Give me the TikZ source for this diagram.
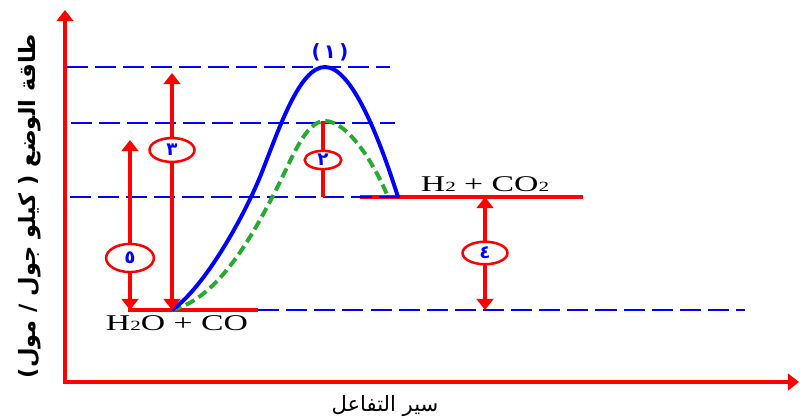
\documentclass[tikz,border=0pt]{standalone}
\usepackage{fontspec}
\setmainfont{Liberation Serif}
\newfontfamily\arabicfont[Script=Arabic]{DejaVu Sans}
\newfontfamily\parenfont{DejaVu Sans}
\TeXXeTstate=1
\usetikzlibrary{arrows.meta, shapes.geometric}
\definecolor{curvegreen}{RGB}{40,170,50}
\newcommand{\idx}[1]{{\fontsize{10}{10}\selectfont #1}}
\newcommand{\pr}[1]{{\parenfont #1}}

\begin{document}
\begin{tikzpicture}[
    x=0.025cm, y=-0.025cm,
    >={Triangle[width=12pt,length=8pt]},
    axis/.style={
        <->,
        draw=red,
        line width=2.8pt
    },
    level/.style={
        draw=blue,
        line width=2pt,
        dash pattern=on 15pt off 5pt
    },
    base/.style={
        draw=red,
        line width=2.4pt
    },
    gap/.style={
        <->,
        draw=red,
        line width=2.8pt
    },
    tag/.style={
        ellipse,
        draw=red,
        line width=1.8pt,
        fill=white,
        inner sep=0pt,
        text=blue,
        font=\arabicfont\bfseries\fontsize{13}{13}\selectfont
    },
    chem/.style={
        inner sep=0pt,
        xscale=1.5,
        font=\fontsize{16}{18}\selectfont
    },
    curve/.style={
        line width=2.8pt
    }
]

    \useasboundingbox (0,0) rectangle (800,419);

    % Axes
    \coordinate (O) at (65,382);
    \coordinate (ytop) at (65,10);
    \coordinate (xend) at (799,382);
    \draw[axis] (ytop) -- (O) -- (xend);

    % Reactant and product levels
    \coordinate (rw) at (128,310);
    \coordinate (re) at (258,310);
    \coordinate (pw) at (360,197);
    \coordinate (pe) at (583,197);
    \draw[base] (rw) -- (re);
    \draw[base] (pw) -- (pe);

    % Dashed guide lines
    \coordinate (l1w) at (67,67);   \coordinate (l1e) at (390,67);
    \coordinate (l2w) at (71,123);  \coordinate (l2e) at (395,123);
    \coordinate (l3w) at (70,197);  \coordinate (l3e) at (400,197);
    \coordinate (l4w) at (258,310); \coordinate (l4e) at (745,310);
    \draw[level] (l1w) -- (l1e);
    \draw[level] (l2w) -- (l2e);
    \draw[level] (l3w) -- (l3e);
    \draw[level] (l4w) -- (l4e);

    % Energy curves
    \coordinate (s) at (172,310);
    \coordinate (p1) at (325,67);
    \coordinate (p2) at (325,121);
    \coordinate (e1) at (398,197);
    \coordinate (e2) at (388,197);
    \draw[curve, curvegreen, dash pattern=on 7pt off 3.5pt]
        (s) .. controls (220,298) and (255,230) .. (275,192)
            .. controls (292,159) and (305,121) .. (p2)
            .. controls (348,121) and (375,165) .. (e2);
    \draw[curve, blue]
        (s) .. controls (205,287) and (245,215) .. (262,172)
            .. controls (280,126) and (300,67) .. (p1)
            .. controls (352,67) and (380,140) .. (e1);

    % Energy gaps
    \coordinate (b5) at (130,310); \coordinate (t5) at (130,140);
    \coordinate (b3) at (172,310); \coordinate (t3) at (172,73);
    \coordinate (b2) at (323,197);
    \coordinate (b4) at (485,310); \coordinate (t4) at (485,197);
    \draw[gap] (b5) -- (t5);
    \draw[gap] (b3) -- (t3);
    \draw[draw=red, line width=2.8pt] (b2) -- (p2 -| b2);
    \draw[gap] (b4) -- (t4);

    \node[tag, minimum width=34pt, minimum height=20pt] (g5) at (130,258) {٥};
    \node[tag, minimum width=32pt, minimum height=17pt] (g3) at (172,150) {٣};
    \node[tag, minimum width=26pt, minimum height=13pt] (g2) at (323,160) {٢};
    \node[tag, minimum width=32pt, minimum height=16pt] (g4) at (485,253) {٤};
    \node[text=blue, inner sep=0pt, font=\arabicfont\bfseries\fontsize{14}{14}\selectfont] (g1) at (330,52) {\pr{(}\,١\,\pr{)}};

    % Labels
    \node[chem] (prod) at (485,184) {H\idx{2} + CO\idx{2}};
    \node[chem] (reac) at (177,323) {H\idx{2}O + CO};
    \node[rotate=90, inner sep=0pt, font=\arabicfont\bfseries\fontsize{16}{19}\selectfont] (ylab) at (30,206) {\beginR طاقة الوضع \pr{)} كيلو جول / مول\pr{(}\endR};
    \node[inner sep=0pt, font=\arabicfont\fontsize{15}{17}\selectfont] (xlab) at (385,406) {\beginR سير التفاعل\endR};

\end{tikzpicture}
\end{document}
